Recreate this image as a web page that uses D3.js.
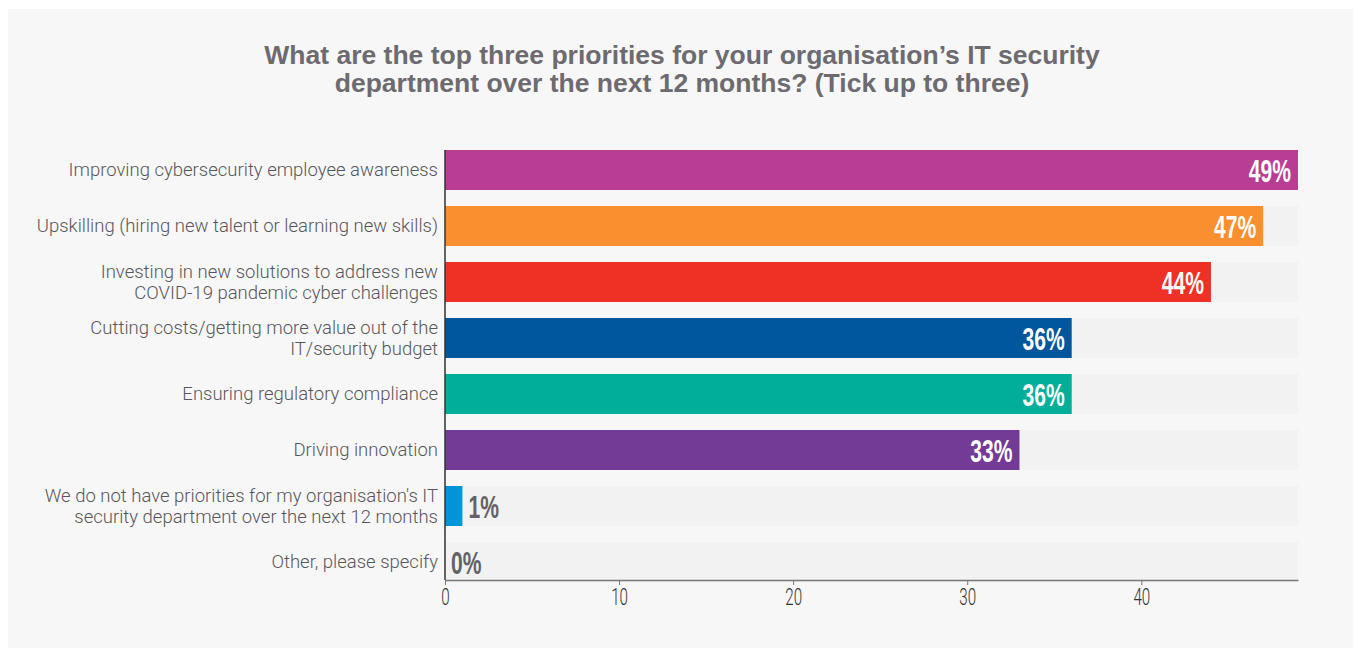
<!DOCTYPE html>
<html>
<head>
<meta charset="utf-8">
<script src="https://cdn.jsdelivr.net/npm/d3@7"></script>
<style>
  html, body { margin: 0; padding: 0; background: #ffffff; }
  svg { display: block; }
</style>
</head>
<body>
<svg id="chart" width="1356" height="648"></svg>
<script>
// Survey answers, in display order
const categories = [
  ["Improving cybersecurity employee awareness"],
  ["Upskilling (hiring new talent or learning new skills)"],
  ["Investing in new solutions to address new", "COVID-19 pandemic cyber challenges"],
  ["Cutting costs/getting more value out of the", "IT/security budget"],
  ["Ensuring regulatory compliance"],
  ["Driving innovation"],
  ["We do not have priorities for my organisation's IT", "security department over the next 12 months"],
  ["Other, please specify"]
];
const values = [49, 47, 44, 36, 36, 33, 1, 0];
const barColors = ["#b83d93", "#f98f2e", "#ee3124", "#00579c", "#00ae9a", "#733a96", "#0095d8", "#0095d8"];
const tickValues = [0, 10, 20, 30, 40];
const titleLines = [
  "What are the top three priorities for your organisation\u2019s IT security",
  "department over the next 12 months? (Tick up to three)"
];

const svg = d3.select("#chart");
const condense = 0.68;

// panel background
svg.append("rect")
  .attr("x", 8).attr("y", 9).attr("width", 1345).attr("height", 650)
  .attr("fill", "#f7f7f7");

// title
svg.append("g").selectAll("text").data(titleLines).join("text")
  .attr("x", 682).attr("y", (d, i) => 64 + i * 28)
  .attr("text-anchor", "middle")
  .attr("font-family", "Liberation Sans, Arial, sans-serif")
  .attr("font-weight", "bold")
  .attr("font-size", 26.5)
  .attr("fill", "#6d6a70")
  .text(d => d);

const x = d3.scaleLinear().domain([0, 49]).range([445, 1298]);
const y = d3.scaleBand().domain(d3.range(categories.length)).range([150, 582]).paddingInner(16 / 56).paddingOuter(0);

// background tracks
svg.append("g").selectAll("rect").data(values).join("rect")
  .attr("x", x(0)).attr("y", (d, i) => y(i))
  .attr("width", x(49) - x(0)).attr("height", y.bandwidth())
  .attr("fill", "#f2f2f2");

// bars
svg.append("g").selectAll("rect").data(values).join("rect")
  .attr("x", x(0)).attr("y", (d, i) => y(i))
  .attr("width", d => x(d) - x(0)).attr("height", y.bandwidth())
  .attr("fill", (d, i) => barColors[i]);

// value labels (condensed by horizontal scaling around the anchor)
svg.append("g").selectAll("text").data(values).join("text")
  .attr("transform", (d, i) => {
    const tx = d >= 10 ? x(d) - 7 : x(d) + 6;
    const ty = y(i) + y.bandwidth() / 2 + 11.5;
    return `translate(${tx},${ty}) scale(${condense},1)`;
  })
  .attr("text-anchor", d => d >= 10 ? "end" : "start")
  .attr("font-family", "Liberation Sans, Arial, sans-serif")
  .attr("font-weight", "bold")
  .attr("font-size", 31)
  .attr("fill", d => d >= 10 ? "#ffffff" : "#636266")
  .text(d => d + "%");

// category labels
const catG = svg.append("g");
categories.forEach((lines, i) => {
  const cy = y(i) + y.bandwidth() / 2;
  const t = catG.append("text")
    .attr("text-anchor", "end")
    .attr("font-family", "Roboto, Liberation Sans, sans-serif")
    .attr("font-weight", 300)
    .attr("font-size", 18.5)
    .attr("fill", "#58565a");
  lines.forEach((line, j) => {
    t.append("tspan")
      .attr("x", 438)
      .attr("y", cy + 6 + (j - (lines.length - 1) / 2) * 21)
      .text(line);
  });
});

// x axis
const axisY = 580;
const xAxis = svg.append("g")
  .attr("transform", `translate(0,${axisY})`)
  .call(d3.axisBottom(x).tickValues(tickValues).tickSize(5).tickPadding(4).tickSizeOuter(0));
xAxis.select(".domain").attr("stroke", "#777777").attr("stroke-width", 1.5);
xAxis.selectAll(".tick line").attr("stroke", "#777777");
xAxis.selectAll(".tick text")
  .attr("transform", "scale(0.66,1)")
  .attr("font-family", "Roboto, Liberation Sans, sans-serif")
  .attr("font-weight", 300)
  .attr("font-size", 23)
  .attr("fill", "#333333");

// y axis line
svg.append("line")
  .attr("x1", x(0)).attr("x2", x(0))
  .attr("y1", 150).attr("y2", axisY)
  .attr("stroke", "#333333").attr("stroke-width", 1.5);
</script>
</body>
</html>
